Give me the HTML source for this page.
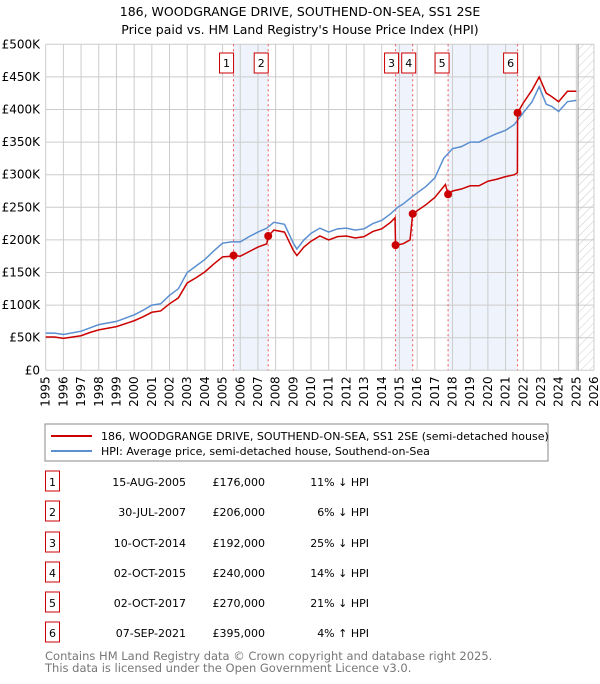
<!DOCTYPE html>
<html><head><meta charset="utf-8"><style>
body{margin:0;background:#fff;width:600px;height:680px;overflow:hidden;font-family:"DejaVu Sans","Liberation Sans",sans-serif;}
svg text{font-family:"DejaVu Sans","Liberation Sans",sans-serif;}
</style></head><body>
<svg id="c" width="600" height="680" xmlns="http://www.w3.org/2000/svg">
<defs><pattern id="hatch" width="6" height="6" patternUnits="userSpaceOnUse" patternTransform="rotate(45)"><line x1="0" y1="0" x2="0" y2="6" stroke="#ccc" stroke-width="1"/></pattern></defs>
<text x="300" y="16" text-anchor="middle" font-size="12.5">186, WOODGRANGE DRIVE, SOUTHEND-ON-SEA, SS1 2SE</text>
<text x="300" y="34" text-anchor="middle" font-size="12.5">Price paid vs. HM Land Registry's House Price Index (HPI)</text>
<g id="plot"></g>
<rect x="45" y="424" width="503" height="37" fill="#fff" stroke="#888"/>
<line x1="51" y1="436" x2="92" y2="436" stroke="#cc0000" stroke-width="2"/>
<text x="101" y="440" font-size="11">186, WOODGRANGE DRIVE, SOUTHEND-ON-SEA, SS1 2SE (semi-detached house)</text>
<line x1="51" y1="451" x2="92" y2="451" stroke="#5b8fd0" stroke-width="2"/>
<text x="101" y="455" font-size="11">HPI: Average price, semi-detached house, Southend-on-Sea</text>
<g id="table"></g>
<text x="45" y="660" font-size="11.5" fill="#777">Contains HM Land Registry data © Crown copyright and database right 2025.</text>
<text x="45" y="672" font-size="11.5" fill="#777">This data is licensed under the Open Government Licence v3.0.</text>
</svg>
<script>
const yTicks=[0,50,100,150,200,250,300,350,400,450,500];
const yTickLabels=["£0","£50K","£100K","£150K","£200K","£250K","£300K","£350K","£400K","£450K","£500K"];
const xYears=[1995,1996,1997,1998,1999,2000,2001,2002,2003,2004,2005,2006,2007,2008,2009,2010,2011,2012,2013,2014,2015,2016,2017,2018,2019,2020,2021,2022,2023,2024,2025,2026];
const hpiDates=[1995,1995.5,1996,1997,1997.5,1998,1999,2000,2000.5,2001,2001.5,2002,2002.5,2003,2003.5,2004,2004.5,2005,2005.5,2006,2006.5,2007,2007.5,2007.9,2008.5,2009,2009.2,2009.6,2010,2010.5,2011,2011.5,2012,2012.5,2013,2013.5,2014,2014.5,2014.9,2015.2,2015.8,2016.5,2017,2017.5,2018,2018.5,2019,2019.5,2020,2020.5,2021,2021.5,2022,2022.5,2022.9,2023.3,2023.6,2024,2024.5,2025];
const hpiValues=[57,57,55,60,65,70,75,85,92,100,102,115,125,150,160,170,183,195,197,197,205,212,218,227,224,195,186,200,210,218,212,217,218,215,217,225,230,240,250,255,268,282,295,325,340,343,350,350,357,363,368,377,395,412,435,408,405,397,412,414];
const priceDates=[1995,1995.5,1996,1997,1997.5,1998,1999,2000,2000.5,2001,2001.5,2002,2002.5,2003,2003.5,2004,2004.5,2005,2005.5,2005.62,2006,2006.5,2007,2007.5,2007.58,2007.9,2008.5,2009,2009.2,2009.6,2010,2010.5,2011,2011.5,2012,2012.5,2013,2013.5,2014,2014.5,2014.75,2014.78,2015.2,2015.6,2015.75,2016.5,2017,2017.6,2017.75,2018,2018.5,2019,2019.5,2020,2020.5,2021,2021.5,2021.67,2021.68,2022,2022.5,2022.9,2023.3,2023.6,2024,2024.5,2025];
const priceValues=[51,51,49,53,58,62,67,76,82,89,91,102,111,134,142,151,163,174,175,176,175,182,189,194,206,215,212,184,176,189,198,206,200,205,206,203,205,213,217,227,234,192,194,200,240,254,265,285,270,275,278,283,283,290,293,297,300,303,395,410,430,450,425,420,412,428,428];
const saleDates=[2005.62,2007.58,2014.78,2015.75,2017.75,2021.68];
const salePrices=[176,206,192,240,270,395];
const saleLabels=["1","2","3","4","5","6"];
const tableDates=["15-AUG-2005","30-JUL-2007","10-OCT-2014","02-OCT-2015","02-OCT-2017","07-SEP-2021"];
const tablePrices=["£176,000","£206,000","£192,000","£240,000","£270,000","£395,000"];
const tableHpi=["11% ↓ HPI","6% ↓ HPI","25% ↓ HPI","14% ↓ HPI","21% ↓ HPI","4% ↑ HPI"];
const NS="http://www.w3.org/2000/svg";
const X0=45.7,X1=594,Y0=370.3,Y1=44.3;
const x=d=>X0+(d-1995)*(X1-X0)/31;
const y=v=>Y0-v*(Y0-Y1)/500;
const plot=document.getElementById('plot');
function mk(t,a,p){const e=document.createElementNS(NS,t);for(const k in a)e.setAttribute(k,a[k]);(p||plot).appendChild(e);return e;}
// shading between sale pairs
[[0,1],[2,3],[4,5]].forEach((pr,i)=>{
 const r=mk('rect',{x:x(saleDates[pr[0]]),y:Y1,width:x(saleDates[pr[1]])-x(saleDates[pr[0]]),height:Y0-Y1,fill:'#eef3fc'});
 
 
});
const hr=mk('rect',{x:x(2025.1),y:Y1,width:X1-x(2025.1),height:Y0-Y1,fill:'url(#hatch)'});


yTicks.forEach((v,i)=>{
 const l=mk('line',{x1:X0,x2:X1,y1:y(v),y2:y(v),stroke:'#ccc'});
 
 
 const t=mk('text',{x:40,y:y(v)+4,'text-anchor':'end','font-size':'12'});t.textContent=yTickLabels[i];
 
 
});
xYears.forEach(yr=>{
 const l=mk('line',{x1:x(yr),x2:x(yr),y1:Y1,y2:Y0,stroke:'#ccc'});
 
 
 const t=mk('text',{x:0,y:0,'font-size':'12','text-anchor':'end',transform:`translate(${x(yr)+4},${Y0+6}) rotate(-90)`});t.textContent=yr;
 
 
});
const vl=mk('line',{x1:x(2025.1),x2:x(2025.1),y1:Y1,y2:Y0,stroke:'#999'});


saleDates.forEach((d,i)=>{
 const l=mk('line',{x1:x(d),x2:x(d),y1:Y1,y2:Y0,stroke:'#e55','stroke-dasharray':'2,3'});
 
 
});
const hp=mk('polyline',{points:hpiDates.map((d,i)=>x(d)+','+y(hpiValues[i])).join(' '),fill:'none',stroke:'#5b8fd0','stroke-width':'1.5'});


const pp=mk('polyline',{points:priceDates.map((d,i)=>x(d)+','+y(priceValues[i])).join(' '),fill:'none',stroke:'#cc0000','stroke-width':'1.5'});


saleDates.forEach((d,i)=>{
 const c=mk('circle',{cx:x(d),cy:y(salePrices[i]),r:4,fill:'#cc0000'});
 
 
 const bx=x(d)-14+ (i===2?-5:0)+(i===3?0:0);
 const g=mk('g',{});
 
 
 const off=[-7,-7,-4,-4,-6,-7][i];
 mk('rect',{x:x(d)+off-7,y:53,width:14,height:20,fill:'#fff',stroke:'#cc0000'},g);
 const t=mk('text',{x:x(d)+off,y:67,'text-anchor':'middle','font-size':'11'},g);t.textContent=saleLabels[i];
});
const tb=document.getElementById('table');
const rowY=[483,513,544,574,604,634];
rowY.forEach((ry,i)=>{
 const g=mk('g',{},tb);
 
 
 mk('rect',{x:45.5,y:ry-12,width:14,height:20,fill:'#fff',stroke:'#cc0000'},g);
 const n=mk('text',{x:52.5,y:ry+3,'text-anchor':'middle','font-size':'11'},g);n.textContent=saleLabels[i];
 const a=mk('text',{x:186,y:ry+3,'text-anchor':'end','font-size':'11'},g);a.textContent=tableDates[i];
 const b=mk('text',{x:265,y:ry+3,'text-anchor':'end','font-size':'11'},g);b.textContent=tablePrices[i];
 const c=mk('text',{x:369,y:ry+3,'text-anchor':'end','font-size':'11'},g);c.textContent=tableHpi[i];
});
</script>
</body></html>
